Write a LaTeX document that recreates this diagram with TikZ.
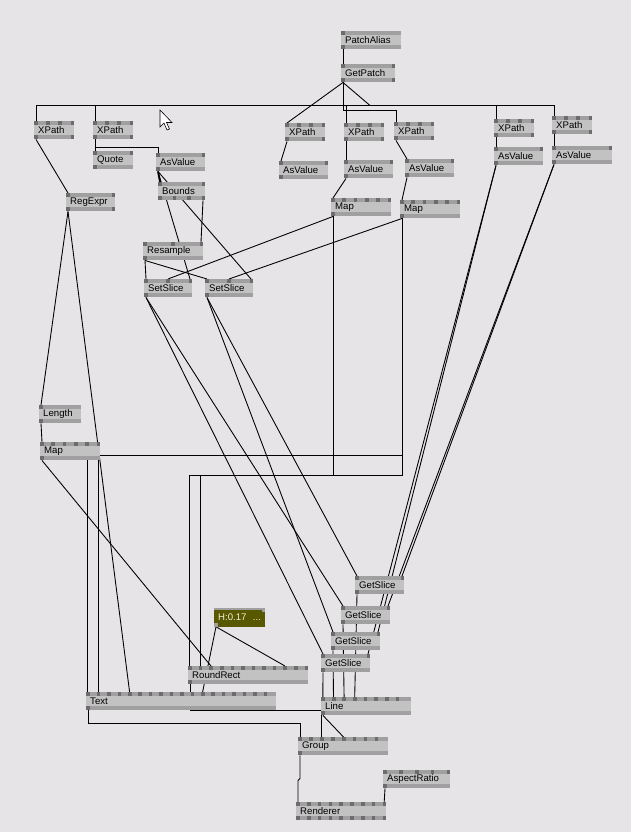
\documentclass[tikz,border=0pt]{standalone}
\usepackage{fontspec}
\setmainfont{Liberation Sans}
\usetikzlibrary{calc}

\definecolor{patchbg}{RGB}{231,228,231}
\definecolor{nodebody}{RGB}{194,194,194}
\definecolor{nodebar}{RGB}{160,160,160}
\definecolor{nodepin}{RGB}{108,108,108}
\definecolor{ioolive}{RGB}{88,88,0}
\definecolor{iotext}{RGB}{240,240,214}

\pgfdeclarelayer{back}
\pgfdeclarelayer{links}
\pgfsetlayers{back,links,main}

\tikzset{
	vvbox/.style={fill=nodebody, anchor=north west, inner ysep=0pt, inner xsep=1.2mm,
		minimum height=5.4mm, align=left,
		font=\fontsize{8.2}{9}\selectfont,
		path picture={
			\fill[nodebar] (path picture bounding box.north west) rectangle ([yshift=-1.2mm]path picture bounding box.north east);
			\fill[nodebar] (path picture bounding box.south west) rectangle ([yshift=1.2mm]path picture bounding box.south east);
			\foreach \k in {1,...,\vvin}{
				\pgfmathsetmacro\pinx{(\k-1)/max(\vvin-1,1)*\vvspan}
				\fill[nodepin] ([xshift=\pinx mm]path picture bounding box.north west) rectangle +(1.1mm,-1.2mm);
			}
			\foreach \k in {1,...,\vvout}{
				\pgfmathsetmacro\pinx{(\k-1)/max(\vvout-1,1)*\vvspan}
				\fill[nodepin] ([xshift=\pinx mm]path picture bounding box.south west) rectangle +(1.1mm,1.2mm);
			}
		}},
	vv/.code n args={4}{%
		\pgfmathsetlengthmacro\vvtw{(#1-8)*0.3mm}%
		\pgfmathsetmacro\vvspan{(#4-3.7)*0.3}%
		\def\vvin{#2}\def\vvout{#3}%
		\pgfkeysalso{/tikz/vvbox, /tikz/text width=\vvtw}%
	},
	iobox/.style={fill=ioolive, text=iotext, anchor=north west, inner ysep=0pt, inner xsep=1.2mm,
		minimum height=5.5mm, text width=12.9mm, align=left,
		font=\fontsize{8.2}{9}\selectfont,
		path picture={
			\fill[nodebar] (path picture bounding box.north west) rectangle ([yshift=-0.6mm]path picture bounding box.north east);
			\fill[nodebar] ([xshift=-1.1mm]path picture bounding box.north east) rectangle +(1.1mm,-1.2mm);
			\fill[nodebar] (path picture bounding box.south west) rectangle +(1.1mm,1.2mm);
		}},
	link/.style={draw=black, line width=0.75pt}
}

\begin{document}
\begin{tikzpicture}[x=0.03cm, y=-0.03cm]

	\begin{pgfonlayer}{back}
		\fill[patchbg] (0,0) rectangle (631,832);
	\end{pgfonlayer}
	\useasboundingbox (0,0) rectangle (631,832);

	\node[vv={60}{1}{1}{60}] (patchalias) at (341,31) {PatchAlias};
	\node[vv={54}{2}{2}{54}] (getpatch) at (341,64) {GetPatch};

	\node[vv={40}{4}{2}{40}] (xpathA) at (34,121) {XPath};
	\node[vv={40}{4}{2}{40}] (xpathB) at (93,121) {XPath};
	\node[vv={40}{4}{2}{40}] (xpathC) at (285,123) {XPath};
	\node[vv={40}{4}{2}{40}] (xpathD) at (344,123) {XPath};
	\node[vv={40}{4}{2}{40}] (xpathE) at (394,122) {XPath};
	\node[vv={40}{4}{2}{40}] (xpathF) at (494,119) {XPath};
	\node[vv={40}{4}{2}{40}] (xpathG) at (552,116) {XPath};

	\node[vv={40}{2}{1}{40}] (quote) at (93,151) {Quote};
	\node[vv={49}{2}{1}{49}] (asvalA) at (156,153) {AsValue};
	\node[vv={49}{2}{1}{49}] (asvalC) at (279,161) {AsValue};
	\node[vv={49}{2}{1}{49}] (asvalD) at (344,160) {AsValue};
	\node[vv={49}{2}{1}{49}] (asvalE) at (405,159) {AsValue};
	\node[vv={49}{2}{1}{49}] (asvalF) at (494,147) {AsValue};
	\node[vv={60}{2}{1}{60}] (asvalG) at (552,146) {AsValue};

	\node[vv={47}{2}{4}{47}] (bounds) at (158,182) {Bounds};
	\node[vv={49}{2}{2}{49}] (regexpr) at (66,193) {RegExpr};
	\node[vv={60}{6}{1}{60}] (mapD) at (331,198) {Map};
	\node[vv={60}{6}{1}{60}] (mapE) at (400,200) {Map};

	\node[vv={60}{3}{1}{60}] (resample) at (143,242) {Resample};
	\node[vv={48}{3}{1}{48}] (setsliceA) at (144,279) {SetSlice};
	\node[vv={48}{3}{1}{48}] (setsliceB) at (205,279) {SetSlice};

	\node[vv={42}{1}{1}{42}] (length) at (39,405) {Length};
	\node[vv={60}{6}{1}{60}] (mapL) at (40,442) {Map};

	\node[vv={49}{2}{1}{49}] (getsliceA) at (355,576) {GetSlice};
	\node[vv={49}{2}{1}{49}] (getsliceB) at (341,606) {GetSlice};
	\node[vv={49}{2}{1}{49}] (getsliceC) at (331,632) {GetSlice};
	\node[vv={49}{2}{1}{49}] (getsliceD) at (321,654) {GetSlice};

	\node[iobox] (hsl) at (214,608) {H:0.17\enspace\,...};
	\node[vv={120}{12}{1}{120}] (roundrect) at (188,666) {RoundRect};
	\node[vv={190}{18}{1}{181}] (txt) at (86,692) {Text};
	\node[vv={90}{8}{1}{78}] (line) at (321,697) {Line};
	\node[vv={90}{8}{1}{80}] (group) at (298,737) {Group};
	\node[vv={67}{5}{1}{67}] (aspect) at (383,770) {AspectRatio};
	\node[vv={90}{9}{9}{90}] (renderer) at (296,802) {Renderer};

	\draw[fill=white, line width=0.5pt] (160,110) -- (160,127) -- (164,123) -- (167,130) -- (169.5,129) -- (166.5,122.5) -- (172,122.5) -- cycle;

	\begin{pgfonlayer}{links}
		\coordinate (gpout) at ($(getpatch.south west)+(2,0)$);

		\draw[link] ($(patchalias.south west)+(2,0)$) -- ($(getpatch.north west)+(2,0)$);
		\draw[link] (gpout) -- ($(xpathC.north west)+(2,0)$);
		\draw[link] (gpout) -- ++(27,23);
		\draw[link] (gpout) -- ++(0,23) -| ($(xpathA.north west)+(2,0)$);
		\draw[link] (gpout) -- ++(0,23) -| ($(xpathB.north west)+(2,0)$);
		\draw[link] (gpout) -- ++(0,23) -| ($(xpathD.north west)+(2,0)$);
		\draw[link] (gpout) -- ++(0,23) -| ($(xpathF.north west)+(2,0)$);
		\draw[link] (gpout) -- ++(0,23) -| ($(xpathG.north west)+(2,0)$);
		\draw[link] (gpout) -- ++(0,28) -| ($(xpathE.north west)+(2,0)$);

		\draw[link] ($(xpathA.south west)+(2,0)$) -- ($(regexpr.north west)+(2,0)$);
		\draw[link] ($(xpathB.south west)+(2,0)$) -- ($(quote.north west)+(2,0)$);
		\draw[link] ($(xpathB.south west)+(2,0)$) -- ++(0,7.5) -| ($(asvalA.north west)+(2,0)$);
		\draw[link] ($(xpathC.south west)+(2,0)$) -- ($(asvalC.north west)+(2,0)$);
		\draw[link] ($(xpathD.south west)+(2,0)$) -- ($(asvalD.north west)+(2,0)$);
		\draw[link] ($(xpathE.south west)+(2,0)$) -- ($(asvalE.north west)+(2,0)$);
		\draw[link] ($(xpathF.south west)+(2,0)$) -- ($(asvalF.north west)+(2,0)$);
		\draw[link] ($(xpathG.south west)+(2,0)$) -- ($(asvalG.north west)+(2,0)$);

		\draw[link, line width=1.5pt] ($(asvalA.south west)+(2,0)$) -- ($(bounds.north west)+(2,0)$);
		\draw[link] ($(asvalA.south west)+(2,0)$) -- ($(setsliceA.north west)+(46,0)$);
		\draw[link] ($(asvalA.south west)+(2,0)$) -- ($(setsliceB.north west)+(46,0)$);
		\draw[link] ($(bounds.south west)+(45,0)$) -- ($(resample.north west)+(58,0)$);
		\draw[link] ($(resample.south west)+(2,0)$) -- ($(setsliceA.north west)+(2,0)$);
		\draw[link] ($(resample.south west)+(2,0)$) -- ($(setsliceB.north west)+(2,0)$);

		\draw[link] ($(asvalD.south west)+(2,0)$) -- ($(mapD.north west)+(2,0)$);
		\draw[link] ($(asvalE.south west)+(2,0)$) -- ($(mapE.north west)+(2,0)$);
		\draw[link] ($(mapD.south west)+(2,0)$) -- ($(setsliceA.north west)+(24,0)$);
		\draw[link] ($(mapE.south west)+(2,0)$) -- ($(setsliceB.north west)+(24,0)$);

		\draw[link] ($(asvalG.south west)+(2,0)$) -- ($(getsliceA.north west)+(47,0)$);
		\draw[link] ($(asvalG.south west)+(2,0)$) -- ($(getsliceB.north west)+(47,0)$);
		\draw[link] ($(asvalF.south west)+(2,0)$) -- ($(getsliceC.north west)+(47,0)$);
		\draw[link] ($(asvalF.south west)+(2,0)$) -- ($(getsliceD.north west)+(47,0)$);
		\draw[link] ($(setsliceA.south west)+(2,0)$) -- ($(getsliceD.north west)+(2,0)$);
		\draw[link] ($(setsliceA.south west)+(2,0)$) -- ($(getsliceB.north west)+(2,0)$);
		\draw[link] ($(setsliceB.south west)+(2,0)$) -- ($(getsliceC.north west)+(2,0)$);
		\draw[link] ($(setsliceB.south west)+(2,0)$) -- ($(getsliceA.north west)+(2,0)$);

		\draw[link] ($(getsliceD.south west)+(2,0)$) -- ($(line.north west)+(1.85,0)$);
		\draw[link] ($(getsliceC.south west)+(2,0)$) -- ($(line.north west)+(12.5,0)$);
		\draw[link] ($(getsliceB.south west)+(2,0)$) -- ($(line.north west)+(23.1,0)$);
		\draw[link] ($(getsliceA.south west)+(2,0)$) -- ($(line.north west)+(33.7,0)$);

		\draw[link] ($(regexpr.south west)+(2,0)$) -- ($(length.north west)+(2,0)$);
		\draw[link] ($(regexpr.south west)+(2,0)$) -- ($(txt.north west)+(43.6,0)$);
		\draw[link] ($(length.south west)+(2,0)$) -- ($(mapL.north west)+(2,0)$);
		\draw[link] ($(mapL.south west)+(2,0)$) -- ($(roundrect.north west)+(23,0)$);

		\draw[link] ($(mapD.south west)+(2,0)$) -- ++(0,239) -| ($(txt.north west)+(12.3,0)$);
		\draw[link] ($(mapE.south west)+(2,0)$) -- ++(0,237) -| ($(txt.north west)+(1.85,0)$);
		\draw[link] ($(mapD.south west)+(2,0)$) -- ++(0,259) -| ($(roundrect.north west)+(12.4,0)$);
		\draw[link] ($(mapE.south west)+(2,0)$) -- ++(0,257) -| ($(roundrect.north west)+(1.85,0)$);

		\draw[link] ($(hsl.south west)+(2,0)$) -- ($(txt.north west)+(116.6,0)$);
		\draw[link] ($(hsl.south west)+(2,0)$) -- ($(roundrect.north west)+(97,0)$);

		\draw[link] ($(roundrect.south west)+(2,0)$) -- ++(0,26) -| ($(group.north west)+(23.7,0)$);
		\draw[link] ($(line.south west)+(2,0)$) -- ($(group.north west)+(45.5,0)$);
		\draw[link] ($(txt.south west)+(2,0)$) -- ++(0,13) -| ($(group.north west)+(2,0)$);
		\draw[link] ($(group.south west)+(2,0)$) -- ++(0,23) -- ++(-2,2) -- ($(renderer.north west)+(2,0)$);
		\draw[link] ($(aspect.south west)+(2,0)$) -- ($(renderer.north west)+(88.2,0)$);
	\end{pgfonlayer}

\end{tikzpicture}
\end{document}
